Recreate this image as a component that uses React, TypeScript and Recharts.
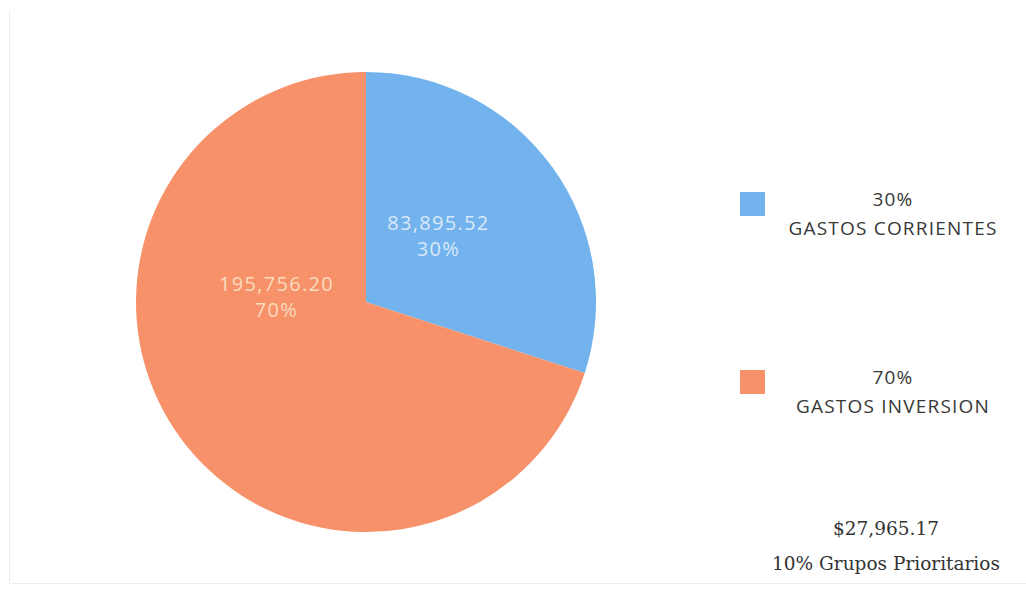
import { PieChart, Pie, Cell, Legend } from 'recharts';

const CATEGORIES = ['GASTOS CORRIENTES', 'GASTOS INVERSION'];
const AMOUNTS = [83895.52, 195756.2];
const PERCENTS = ['30%', '70%'];
const COLORS = ['#72b3ee', '#f7916a'];
const LABEL_COLORS = ['#dbe9f7', '#f9dcbc'];

const NOTE_AMOUNT = '$27,965.17';
const NOTE_TEXT = '10% Grupos Prioritarios';

const data = CATEGORIES.map((name, i) => ({
  name,
  value: AMOUNTS[i],
  pct: PERCENTS[i],
}));

const fmt = (v: number) =>
  v.toLocaleString('en-US', { minimumFractionDigits: 2, maximumFractionDigits: 2 });

// Excel "best fit" style placement: pull labels inward, nudge the big one toward the left
function SliceLabel(props: any) {
  const { cx, cy, midAngle, outerRadius, index, value, payload } = props;
  const angle = index === 1 ? 176 : midAngle + 7;
  const r = outerRadius * (index === 1 ? 0.39 : 0.43);
  const rad = (Math.PI / 180) * angle;
  const x = cx + r * Math.cos(rad);
  const y = cy - r * Math.sin(rad);
  return (
    <text
      x={x}
      y={y}
      textAnchor="middle"
      fill={LABEL_COLORS[index]}
      fontFamily="'Open Sans', Lato, sans-serif"
      fontSize={20}
      letterSpacing={1.3}
    >
      <tspan x={x} dy={-5}>{fmt(value)}</tspan>
      <tspan x={x} dy={26}>{payload.pct}</tspan>
    </text>
  );
}

function SideLegend({ payload }: any) {
  const items = payload ?? [];
  return (
    <div style={{ position: 'relative', width: 300, height: 594, fontFamily: '"Open Sans", Lato, sans-serif' }}>
      {items.map((item: any, i: number) => {
        const top = i === 0 ? 192 : 370;
        return (
          <div key={item.value}>
            <div
              style={{
                position: 'absolute',
                left: 20,
                top,
                width: 25,
                height: 24,
                background: COLORS[i],
              }}
            />
            <div
              style={{
                position: 'absolute',
                left: 40,
                width: 266,
                top: top - 7,
                textAlign: 'center',
                color: '#383838',
                fontSize: 19,
                letterSpacing: 1.2,
                lineHeight: '29px',
              }}
            >
              <div>{PERCENTS[i]}</div>
              <div>{item.value}</div>
            </div>
          </div>
        );
      })}
      <div
        style={{
          position: 'absolute',
          left: 30,
          width: 272,
          top: 511,
          textAlign: 'center',
          color: '#333',
          fontFamily: '"DejaVu Serif", "Liberation Serif", serif',
          fontSize: 18.5,
          lineHeight: '35px',
        }}
      >
        <div>{NOTE_AMOUNT}</div>
        <div>{NOTE_TEXT}</div>
      </div>
    </div>
  );
}

export default function App() {
  return (
    <div style={{ position: 'absolute', left: 0, top: 0, width: 1026, height: 594, background: '#fff' }}>
      <div
        style={{
          position: 'absolute',
          left: 9,
          top: 10,
          width: 1017,
          height: 573,
          borderLeft: '1px solid #ededed',
          borderBottom: '1px solid #ededed',
        }}
      />
      <PieChart width={1026} height={594} margin={{ top: 0, right: 0, bottom: 0, left: 0 }}>
        <Pie
          data={data}
          dataKey="value"
          nameKey="name"
          cx={366}
          cy={302}
          outerRadius={230}
          startAngle={90}
          endAngle={-270}
          stroke="none"
          label={SliceLabel}
          labelLine={false}
          isAnimationActive={false}
        >
          {data.map((d, i) => (
            <Cell key={d.name} fill={COLORS[i]} />
          ))}
        </Pie>
        <Legend
          content={<SideLegend />}
          wrapperStyle={{ position: 'absolute', left: 720, top: 0, width: 300, height: 594 }}
        />
      </PieChart>
    </div>
  );
}
